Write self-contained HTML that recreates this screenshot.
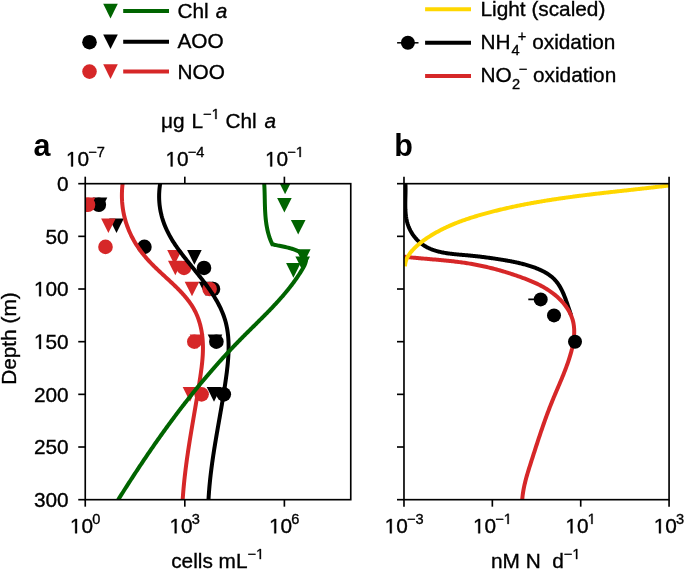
<!DOCTYPE html>
<html><head><meta charset="utf-8"><style>
html,body{margin:0;padding:0;background:#fff;}
svg{display:block;will-change:transform;font-family:"Liberation Sans",sans-serif;}
text{stroke:#000;stroke-width:0.35px;}
</style></head><body>
<svg width="685" height="569" viewBox="0 0 685 569">
<rect width="685" height="569" fill="#fff"/>
<clipPath id="ca"><rect x="85.25" y="183.68" width="265.5" height="316.0"/></clipPath>
<clipPath id="cb"><rect x="403.98" y="183.68" width="265.09000000000003" height="316.0"/></clipPath>
<g clip-path="url(#ca)">
<path d="M92.70,197.45L107.30,197.45L100.00,212.05Z" fill="#000"/>
<path d="M109.20,218.51L123.80,218.51L116.50,233.11Z" fill="#000"/>
<path d="M187.10,250.11L201.70,250.11L194.40,264.71Z" fill="#000"/>
<path d="M198.70,281.71L213.30,281.71L206.00,296.31Z" fill="#000"/>
<path d="M207.70,334.38L222.30,334.38L215.00,348.98Z" fill="#000"/>
<path d="M206.70,387.05L221.30,387.05L214.00,401.65Z" fill="#000"/>
<circle cx="98.80" cy="204.75" r="7.30" fill="#000"/>
<circle cx="144.40" cy="246.88" r="7.30" fill="#000"/>
<circle cx="204.00" cy="267.95" r="7.30" fill="#000"/>
<circle cx="213.00" cy="289.01" r="7.30" fill="#000"/>
<circle cx="216.40" cy="341.68" r="7.30" fill="#000"/>
<circle cx="223.80" cy="394.35" r="7.30" fill="#000"/>
<path d="M80.70,197.45L95.30,197.45L88.00,212.05Z" fill="#d62728"/>
<path d="M101.10,218.51L115.70,218.51L108.40,233.11Z" fill="#d62728"/>
<path d="M167.20,250.11L181.80,250.11L174.50,264.71Z" fill="#d62728"/>
<path d="M168.00,260.65L182.60,260.65L175.30,275.25Z" fill="#d62728"/>
<path d="M184.70,281.71L199.30,281.71L192.00,296.31Z" fill="#d62728"/>
<path d="M189.70,334.38L204.30,334.38L197.00,348.98Z" fill="#d62728"/>
<path d="M182.70,387.05L197.30,387.05L190.00,401.65Z" fill="#d62728"/>
<circle cx="88.00" cy="204.75" r="7.30" fill="#d62728"/>
<circle cx="105.50" cy="246.88" r="7.30" fill="#d62728"/>
<circle cx="184.00" cy="267.95" r="7.30" fill="#d62728"/>
<circle cx="209.60" cy="289.01" r="7.30" fill="#d62728"/>
<circle cx="194.30" cy="341.68" r="7.30" fill="#d62728"/>
<circle cx="201.60" cy="394.35" r="7.30" fill="#d62728"/>
<path d="M277.80,179.54L292.40,179.54L285.10,194.14Z" fill="#006400"/>
<path d="M277.10,197.97L291.70,197.97L284.40,212.57Z" fill="#006400"/>
<path d="M290.90,219.88L305.50,219.88L298.20,234.48Z" fill="#006400"/>
<path d="M296.00,249.27L310.60,249.27L303.30,263.87Z" fill="#006400"/>
<path d="M295.40,256.43L310.00,256.43L302.70,271.03Z" fill="#006400"/>
<path d="M286.10,263.07L300.70,263.07L293.40,277.67Z" fill="#006400"/>
<path d="M122.66,183.17 L122.51,184.42 L122.38,185.67 L122.27,186.91 L122.17,188.15 L122.08,189.38 L122.02,190.60 L121.96,191.82 L121.93,193.04 L121.91,194.25 L121.90,195.46 L121.91,196.66 L121.93,197.85 L121.97,199.04 L122.03,200.22 L122.09,201.40 L122.18,202.57 L122.28,203.74 L122.39,204.91 L122.52,206.06 L122.66,207.22 L122.82,208.36 L122.99,209.50 L123.17,210.64 L123.37,211.77 L123.58,212.90 L123.81,214.02 L124.05,215.13 L124.30,216.24 L124.57,217.34 L124.85,218.44 L125.15,219.53 L125.45,220.62 L125.77,221.70 L126.11,222.78 L126.46,223.85 L126.82,224.92 L127.19,225.98 L127.58,227.03 L127.98,228.08 L128.39,229.13 L128.81,230.16 L129.25,231.20 L129.70,232.22 L130.16,233.25 L130.63,234.26 L131.12,235.27 L131.61,236.28 L132.12,237.28 L132.64,238.27 L133.18,239.26 L133.72,240.25 L134.28,241.22 L134.85,242.19 L135.42,243.16 L136.01,244.12 L136.62,245.08 L137.23,246.03 L137.85,246.97 L138.49,247.91 L139.13,248.84 L139.79,249.77 L140.46,250.69 L141.13,251.61 L141.82,252.52 L142.52,253.42 L143.23,254.32 L143.95,255.21 L144.68,256.10 L145.42,256.98 L146.17,257.86 L146.93,258.73 L147.70,259.59 L148.48,260.45 L149.26,261.30 L150.06,262.15 L150.86,263.00 L151.67,263.83 L152.49,264.67 L153.32,265.50 L154.15,266.33 L154.99,267.15 L155.83,267.97 L156.68,268.79 L157.53,269.60 L158.39,270.42 L159.25,271.23 L160.11,272.03 L160.98,272.84 L161.84,273.65 L162.71,274.45 L163.58,275.25 L164.46,276.05 L165.33,276.86 L166.20,277.66 L167.07,278.46 L167.94,279.26 L168.81,280.06 L169.67,280.86 L170.54,281.67 L171.40,282.47 L172.26,283.28 L173.11,284.09 L173.96,284.90 L174.80,285.71 L175.64,286.53 L176.48,287.35 L177.31,288.17 L178.13,289.00 L178.94,289.83 L179.75,290.66 L180.55,291.49 L181.34,292.34 L182.12,293.18 L182.90,294.03 L183.66,294.89 L184.41,295.75 L185.15,296.62 L185.88,297.49 L186.60,298.37 L187.31,299.25 L188.01,300.15 L188.69,301.05 L189.36,301.95 L190.01,302.87 L190.65,303.79 L191.28,304.72 L191.89,305.65 L192.49,306.60 L193.06,307.55 L193.63,308.52 L194.17,309.49 L194.70,310.47 L195.21,311.46 L195.70,312.47 L196.18,313.48 L196.63,314.50 L197.07,315.53 L197.49,316.56 L197.90,317.61 L198.28,318.66 L198.66,319.72 L199.01,320.79 L199.35,321.87 L199.67,322.95 L199.97,324.04 L200.26,325.13 L200.54,326.23 L200.79,327.34 L201.04,328.45 L201.26,329.57 L201.47,330.69 L201.67,331.81 L201.85,332.94 L202.02,334.08 L202.17,335.21 L202.31,336.35 L202.44,337.50 L202.55,338.64 L202.64,339.79 L202.72,340.94 L202.79,342.10 L202.85,343.25 L202.89,344.41 L202.92,345.56 L202.94,346.72 L202.95,347.88 L202.94,349.04 L202.92,350.20 L202.89,351.36 L202.86,352.52 L202.81,353.69 L202.75,354.85 L202.68,356.01 L202.60,357.18 L202.52,358.34 L202.42,359.50 L202.32,360.67 L202.21,361.83 L202.10,363.00 L201.97,364.16 L201.84,365.33 L201.71,366.49 L201.57,367.65 L201.42,368.82 L201.27,369.98 L201.11,371.14 L200.95,372.30 L200.79,373.46 L200.62,374.62 L200.45,375.78 L200.28,376.94 L200.11,378.10 L199.93,379.25 L199.75,380.41 L199.58,381.56 L199.40,382.71 L199.22,383.86 L199.03,385.01 L198.85,386.16 L198.67,387.31 L198.48,388.46 L198.30,389.60 L198.11,390.75 L197.93,391.89 L197.74,393.03 L197.55,394.17 L197.36,395.32 L197.17,396.46 L196.98,397.59 L196.79,398.73 L196.60,399.87 L196.41,401.01 L196.22,402.14 L196.03,403.28 L195.84,404.41 L195.64,405.54 L195.45,406.68 L195.26,407.81 L195.07,408.94 L194.87,410.07 L194.68,411.20 L194.49,412.33 L194.29,413.46 L194.10,414.59 L193.91,415.72 L193.71,416.85 L193.52,417.98 L193.33,419.11 L193.14,420.23 L192.95,421.36 L192.75,422.49 L192.56,423.61 L192.37,424.74 L192.18,425.87 L191.99,426.99 L191.80,428.12 L191.61,429.25 L191.42,430.37 L191.24,431.50 L191.05,432.62 L190.86,433.75 L190.68,434.88 L190.49,436.00 L190.31,437.13 L190.13,438.26 L189.94,439.38 L189.76,440.51 L189.58,441.64 L189.40,442.76 L189.23,443.89 L189.05,445.02 L188.87,446.15 L188.70,447.28 L188.53,448.41 L188.35,449.53 L188.18,450.66 L188.02,451.80 L187.85,452.93 L187.68,454.06 L187.52,455.19 L187.35,456.32 L187.19,457.46 L187.03,458.59 L186.87,459.72 L186.71,460.86 L186.56,462.00 L186.41,463.13 L186.25,464.27 L186.10,465.41 L185.96,466.55 L185.81,467.69 L185.67,468.83 L185.52,469.97 L185.38,471.12 L185.25,472.26 L185.11,473.40 L184.98,474.55 L184.84,475.70 L184.71,476.85 L184.59,478.00 L184.46,479.15 L184.34,480.30 L184.22,481.45 L184.10,482.60 L183.99,483.76 L183.87,484.92 L183.76,486.07 L183.66,487.23 L183.55,488.39 L183.45,489.56 L183.35,490.72 L183.25,491.89 L183.16,493.05 L183.07,494.22 L182.98,495.39 L182.89,496.56 L182.81,497.73 L182.73,498.91 L182.65,500.09" fill="none" stroke="#d62728" stroke-width="4.0"/>
<path d="M160.21,183.20 L160.02,184.45 L159.84,185.69 L159.69,186.92 L159.55,188.15 L159.44,189.37 L159.34,190.58 L159.26,191.78 L159.20,192.98 L159.15,194.17 L159.13,195.36 L159.12,196.53 L159.13,197.71 L159.16,198.87 L159.20,200.03 L159.27,201.18 L159.35,202.33 L159.44,203.46 L159.55,204.60 L159.68,205.72 L159.83,206.84 L159.99,207.96 L160.17,209.07 L160.36,210.17 L160.57,211.26 L160.79,212.35 L161.03,213.44 L161.29,214.52 L161.55,215.59 L161.84,216.66 L162.13,217.72 L162.45,218.77 L162.77,219.82 L163.11,220.86 L163.46,221.90 L163.83,222.93 L164.21,223.96 L164.61,224.98 L165.01,226.00 L165.43,227.01 L165.86,228.01 L166.31,229.01 L166.76,230.01 L167.23,231.00 L167.71,231.98 L168.20,232.96 L168.71,233.94 L169.22,234.91 L169.75,235.87 L170.28,236.83 L170.83,237.79 L171.39,238.74 L171.96,239.68 L172.53,240.63 L173.12,241.56 L173.72,242.50 L174.32,243.43 L174.93,244.36 L175.55,245.28 L176.18,246.20 L176.82,247.12 L177.46,248.03 L178.11,248.94 L178.77,249.85 L179.43,250.76 L180.10,251.67 L180.78,252.57 L181.46,253.47 L182.14,254.37 L182.83,255.27 L183.52,256.17 L184.22,257.06 L184.92,257.96 L185.63,258.85 L186.34,259.75 L187.05,260.64 L187.77,261.53 L188.48,262.43 L189.20,263.32 L189.92,264.21 L190.64,265.11 L191.37,266.00 L192.09,266.90 L192.81,267.79 L193.54,268.69 L194.26,269.58 L194.99,270.48 L195.71,271.38 L196.43,272.28 L197.15,273.18 L197.87,274.09 L198.59,274.99 L199.31,275.89 L200.02,276.80 L200.73,277.71 L201.44,278.62 L202.14,279.53 L202.85,280.44 L203.54,281.36 L204.24,282.27 L204.93,283.19 L205.61,284.11 L206.29,285.03 L206.97,285.96 L207.63,286.88 L208.30,287.81 L208.96,288.74 L209.61,289.68 L210.25,290.61 L210.89,291.55 L211.52,292.49 L212.14,293.43 L212.76,294.38 L213.37,295.33 L213.97,296.28 L214.56,297.24 L215.14,298.20 L215.71,299.16 L216.28,300.12 L216.83,301.09 L217.37,302.06 L217.91,303.03 L218.43,304.01 L218.94,304.99 L219.44,305.98 L219.93,306.97 L220.41,307.96 L220.88,308.96 L221.33,309.96 L221.77,310.96 L222.20,311.97 L222.62,312.98 L223.02,314.00 L223.41,315.02 L223.78,316.04 L224.14,317.07 L224.49,318.11 L224.82,319.15 L225.13,320.19 L225.44,321.24 L225.72,322.29 L225.99,323.35 L226.25,324.41 L226.49,325.47 L226.71,326.54 L226.92,327.62 L227.12,328.70 L227.31,329.78 L227.48,330.86 L227.63,331.95 L227.78,333.05 L227.91,334.14 L228.03,335.24 L228.14,336.35 L228.23,337.45 L228.32,338.56 L228.39,339.67 L228.45,340.79 L228.50,341.91 L228.54,343.03 L228.57,344.15 L228.59,345.27 L228.60,346.40 L228.60,347.53 L228.59,348.66 L228.57,349.79 L228.55,350.93 L228.51,352.06 L228.47,353.20 L228.42,354.34 L228.36,355.48 L228.29,356.62 L228.22,357.76 L228.14,358.90 L228.05,360.05 L227.96,361.19 L227.86,362.34 L227.76,363.48 L227.65,364.63 L227.53,365.77 L227.41,366.92 L227.28,368.06 L227.15,369.21 L227.02,370.35 L226.88,371.50 L226.74,372.64 L226.59,373.78 L226.44,374.93 L226.29,376.07 L226.13,377.21 L225.97,378.35 L225.81,379.49 L225.65,380.63 L225.49,381.76 L225.32,382.90 L225.16,384.03 L224.99,385.16 L224.82,386.29 L224.65,387.42 L224.47,388.55 L224.30,389.67 L224.12,390.80 L223.95,391.92 L223.77,393.05 L223.59,394.17 L223.41,395.29 L223.23,396.41 L223.04,397.53 L222.86,398.65 L222.67,399.77 L222.49,400.88 L222.30,402.00 L222.11,403.11 L221.93,404.23 L221.74,405.34 L221.55,406.45 L221.36,407.56 L221.17,408.67 L220.97,409.78 L220.78,410.89 L220.59,412.00 L220.40,413.11 L220.20,414.22 L220.01,415.33 L219.82,416.43 L219.62,417.54 L219.43,418.65 L219.24,419.75 L219.04,420.86 L218.85,421.96 L218.66,423.06 L218.46,424.17 L218.27,425.27 L218.08,426.38 L217.88,427.48 L217.69,428.58 L217.50,429.68 L217.31,430.79 L217.12,431.89 L216.93,432.99 L216.74,434.09 L216.55,435.20 L216.36,436.30 L216.17,437.40 L215.99,438.50 L215.80,439.61 L215.62,440.71 L215.43,441.81 L215.25,442.92 L215.07,444.02 L214.89,445.12 L214.71,446.23 L214.53,447.33 L214.35,448.44 L214.18,449.54 L214.00,450.65 L213.83,451.75 L213.66,452.86 L213.49,453.96 L213.32,455.07 L213.15,456.18 L212.99,457.29 L212.83,458.39 L212.66,459.50 L212.51,460.61 L212.35,461.72 L212.19,462.84 L212.04,463.95 L211.89,465.06 L211.74,466.17 L211.59,467.29 L211.44,468.40 L211.30,469.52 L211.16,470.64 L211.02,471.75 L210.89,472.87 L210.75,473.99 L210.62,475.11 L210.49,476.23 L210.37,477.36 L210.24,478.48 L210.12,479.61 L210.01,480.73 L209.89,481.86 L209.78,482.99 L209.67,484.12 L209.56,485.25 L209.46,486.38 L209.36,487.52 L209.26,488.65 L209.17,489.79 L209.08,490.92 L208.99,492.06 L208.91,493.20 L208.83,494.35 L208.75,495.49 L208.67,496.64 L208.60,497.78 L208.54,498.93 L208.47,500.08" fill="none" stroke="#000" stroke-width="4.0"/>
<path d="M264.23,183.73 L264.29,184.75 L264.35,185.78 L264.40,186.81 L264.45,187.84 L264.49,188.87 L264.53,189.91 L264.56,190.95 L264.60,191.99 L264.62,193.03 L264.65,194.07 L264.68,195.12 L264.70,196.16 L264.72,197.21 L264.74,198.26 L264.77,199.31 L264.79,200.36 L264.81,201.41 L264.83,202.46 L264.86,203.51 L264.89,204.56 L264.92,205.61 L264.95,206.67 L264.99,207.72 L265.03,208.77 L265.07,209.82 L265.12,210.87 L265.18,211.92 L265.24,212.97 L265.31,214.01 L265.38,215.06 L265.46,216.11 L265.55,217.15 L265.65,218.19 L265.75,219.23 L265.86,220.27 L265.98,221.31 L266.12,222.34 L266.26,223.37 L266.41,224.40 L266.57,225.43 L266.75,226.45 L266.94,227.47 L267.14,228.49 L267.35,229.51 L267.57,230.52 L267.81,231.53 L268.06,232.53 L268.33,233.53 L268.61,234.53 L268.91,235.52 L269.23,236.51 L269.56,237.50 L269.90,238.48 L270.27,239.46 L270.65,240.43 L271.05,241.40 L271.47,242.36 L271.90,243.31 L272.36,244.27 L272.81,244.31 L273.58,244.53 L274.41,244.75 L275.30,244.96 L276.25,245.17 L277.25,245.38 L278.30,245.59 L279.39,245.80 L280.53,246.02 L281.70,246.26 L282.90,246.50 L284.14,246.76 L285.39,247.03 L286.67,247.33 L287.96,247.65 L289.27,247.99 L290.58,248.37 L291.89,248.77 L293.20,249.20 L294.49,249.66 L295.76,250.16 L296.99,250.69 L298.18,251.25 L299.31,251.84 L300.38,252.47 L301.38,253.13 L302.29,253.83 L303.11,254.56 L303.84,255.32 L304.46,256.12 L304.98,256.94 L305.38,257.79 L305.67,258.67 L305.84,259.57 L305.88,260.48 L305.79,261.42 L305.60,262.37 L305.31,263.33 L304.94,264.30 L304.50,265.28 L304.01,266.26 L303.47,267.25 L302.91,268.23 L302.34,269.21 L301.76,270.18 L301.17,271.15 L300.57,272.12 L299.97,273.08 L299.36,274.03 L298.74,274.98 L298.11,275.93 L297.48,276.87 L296.84,277.81 L296.20,278.75 L295.55,279.68 L294.89,280.60 L294.22,281.53 L293.55,282.45 L292.88,283.36 L292.19,284.27 L291.51,285.18 L290.81,286.08 L290.11,286.99 L289.41,287.88 L288.70,288.78 L287.98,289.67 L287.26,290.56 L286.54,291.44 L285.81,292.32 L285.07,293.20 L284.33,294.08 L283.59,294.95 L282.84,295.82 L282.09,296.69 L281.33,297.55 L280.57,298.41 L279.81,299.27 L279.04,300.13 L278.27,300.99 L277.49,301.84 L276.71,302.69 L275.93,303.54 L275.14,304.39 L274.35,305.23 L273.56,306.08 L272.77,306.92 L271.97,307.76 L271.17,308.60 L270.36,309.43 L269.56,310.27 L268.75,311.10 L267.94,311.93 L267.13,312.77 L266.31,313.60 L265.50,314.43 L264.68,315.25 L263.86,316.08 L263.04,316.91 L262.22,317.73 L261.39,318.56 L260.57,319.38 L259.74,320.20 L258.91,321.03 L258.08,321.85 L257.26,322.67 L256.43,323.49 L255.60,324.31 L254.77,325.14 L253.94,325.96 L253.11,326.78 L252.27,327.60 L251.44,328.42 L250.61,329.24 L249.78,330.07 L248.95,330.89 L248.12,331.71 L247.30,332.53 L246.47,333.36 L245.64,334.18 L244.81,335.01 L243.99,335.83 L243.17,336.66 L242.34,337.49 L241.52,338.32 L240.70,339.15 L239.89,339.98 L239.07,340.81 L238.26,341.65 L237.44,342.48 L236.63,343.32 L235.82,344.16 L235.02,345.00 L234.21,345.84 L233.41,346.68 L232.60,347.52 L231.80,348.36 L231.00,349.21 L230.21,350.05 L229.41,350.90 L228.62,351.75 L227.82,352.60 L227.03,353.45 L226.24,354.30 L225.46,355.15 L224.67,356.01 L223.89,356.86 L223.10,357.72 L222.32,358.58 L221.54,359.44 L220.77,360.30 L219.99,361.16 L219.21,362.02 L218.44,362.88 L217.67,363.75 L216.90,364.61 L216.13,365.48 L215.36,366.35 L214.60,367.22 L213.83,368.09 L213.07,368.96 L212.31,369.83 L211.55,370.70 L210.79,371.58 L210.04,372.45 L209.28,373.33 L208.53,374.21 L207.78,375.09 L207.03,375.97 L206.28,376.85 L205.53,377.73 L204.78,378.61 L204.04,379.50 L203.29,380.38 L202.55,381.27 L201.81,382.15 L201.07,383.04 L200.33,383.93 L199.60,384.82 L198.86,385.71 L198.13,386.60 L197.40,387.50 L196.67,388.39 L195.94,389.29 L195.21,390.18 L194.48,391.08 L193.76,391.98 L193.03,392.88 L192.31,393.78 L191.59,394.68 L190.87,395.58 L190.15,396.48 L189.43,397.39 L188.72,398.29 L188.00,399.20 L187.29,400.11 L186.58,401.01 L185.86,401.92 L185.15,402.83 L184.45,403.74 L183.74,404.65 L183.03,405.57 L182.33,406.48 L181.62,407.39 L180.92,408.31 L180.22,409.23 L179.52,410.14 L178.82,411.06 L178.12,411.98 L177.43,412.90 L176.73,413.82 L176.04,414.74 L175.34,415.67 L174.65,416.59 L173.96,417.51 L173.27,418.44 L172.58,419.36 L171.90,420.29 L171.21,421.22 L170.53,422.15 L169.84,423.08 L169.16,424.01 L168.48,424.94 L167.80,425.87 L167.12,426.80 L166.44,427.74 L165.76,428.67 L165.08,429.61 L164.41,430.54 L163.73,431.48 L163.06,432.42 L162.39,433.36 L161.72,434.29 L161.05,435.23 L160.38,436.18 L159.71,437.12 L159.04,438.06 L158.38,439.00 L157.71,439.95 L157.05,440.89 L156.39,441.84 L155.72,442.78 L155.06,443.73 L154.40,444.68 L153.74,445.63 L153.08,446.58 L152.43,447.53 L151.77,448.48 L151.11,449.43 L150.46,450.38 L149.81,451.34 L149.15,452.29 L148.50,453.24 L147.85,454.20 L147.20,455.15 L146.55,456.11 L145.90,457.07 L145.26,458.03 L144.61,458.99 L143.96,459.94 L143.32,460.91 L142.67,461.87 L142.03,462.83 L141.39,463.79 L140.75,464.75 L140.10,465.72 L139.46,466.68 L138.83,467.65 L138.19,468.61 L137.55,469.58 L136.91,470.54 L136.28,471.51 L135.64,472.48 L135.01,473.45 L134.37,474.42 L133.74,475.39 L133.11,476.36 L132.47,477.33 L131.84,478.30 L131.21,479.27 L130.58,480.25 L129.95,481.22 L129.33,482.19 L128.70,483.17 L128.07,484.14 L127.44,485.12 L126.82,486.10 L126.19,487.07 L125.57,488.05 L124.95,489.03 L124.32,490.01 L123.70,490.99 L123.08,491.97 L122.46,492.95 L121.84,493.93 L121.22,494.91 L120.60,495.89 L119.98,496.88 L119.36,497.86 L118.74,498.84 L118.13,499.83" fill="none" stroke="#006400" stroke-width="4.0" stroke-linejoin="miter"/>
</g>
<g clip-path="url(#cb)">
<path d="M405.41,183.79 L405.45,184.55 L405.48,185.32 L405.51,186.10 L405.53,186.88 L405.54,187.66 L405.55,188.45 L405.55,189.25 L405.55,190.05 L405.55,190.85 L405.54,191.66 L405.52,192.47 L405.51,193.28 L405.49,194.10 L405.47,194.92 L405.45,195.75 L405.43,196.58 L405.41,197.41 L405.39,198.24 L405.37,199.07 L405.35,199.91 L405.34,200.75 L405.32,201.58 L405.31,202.42 L405.30,203.26 L405.30,204.10 L405.30,204.94 L405.30,205.79 L405.31,206.63 L405.33,207.47 L405.35,208.31 L405.38,209.14 L405.41,209.98 L405.46,210.82 L405.51,211.65 L405.57,212.49 L405.64,213.32 L405.72,214.15 L405.81,214.97 L405.91,215.80 L406.02,216.62 L406.15,217.43 L406.28,218.25 L406.43,219.06 L406.59,219.86 L406.77,220.67 L406.96,221.46 L407.16,222.26 L407.38,223.04 L407.61,223.83 L407.86,224.60 L408.13,225.38 L408.41,226.14 L408.71,226.90 L409.03,227.66 L409.35,228.40 L409.70,229.14 L410.06,229.87 L410.43,230.60 L410.82,231.32 L411.22,232.02 L411.63,232.72 L412.06,233.42 L412.50,234.10 L412.96,234.77 L413.42,235.43 L413.91,236.09 L414.40,236.73 L414.90,237.36 L415.42,237.98 L415.95,238.59 L416.49,239.19 L417.04,239.78 L417.60,240.35 L418.17,240.91 L418.76,241.46 L419.35,242.00 L419.95,242.52 L420.57,243.03 L421.19,243.53 L421.82,244.01 L422.46,244.48 L423.11,244.93 L423.77,245.37 L424.44,245.80 L425.12,246.21 L425.80,246.60 L426.49,246.99 L427.19,247.36 L427.90,247.71 L428.62,248.06 L429.34,248.39 L430.07,248.71 L430.80,249.02 L431.54,249.31 L432.29,249.60 L433.04,249.87 L433.80,250.14 L434.57,250.39 L435.34,250.64 L436.12,250.87 L436.90,251.09 L437.69,251.31 L438.48,251.52 L439.27,251.71 L440.07,251.90 L440.88,252.08 L441.68,252.26 L442.50,252.42 L443.31,252.58 L444.13,252.74 L444.95,252.88 L445.77,253.02 L446.60,253.15 L447.43,253.28 L448.26,253.40 L449.09,253.52 L449.93,253.63 L450.77,253.74 L451.60,253.84 L452.44,253.94 L453.28,254.03 L454.13,254.12 L454.97,254.21 L455.81,254.30 L456.65,254.38 L457.50,254.46 L458.34,254.54 L459.18,254.62 L460.02,254.69 L460.86,254.77 L461.70,254.84 L462.54,254.91 L463.38,254.98 L464.22,255.06 L465.05,255.13 L465.88,255.20 L466.71,255.27 L467.54,255.35 L468.36,255.42 L469.19,255.50 L470.01,255.58 L470.83,255.66 L471.64,255.74 L472.46,255.82 L473.27,255.91 L474.08,255.99 L474.89,256.08 L475.70,256.16 L476.50,256.25 L477.31,256.34 L478.11,256.43 L478.91,256.52 L479.71,256.61 L480.51,256.71 L481.31,256.80 L482.11,256.90 L482.90,257.00 L483.70,257.10 L484.50,257.20 L485.29,257.30 L486.08,257.40 L486.88,257.51 L487.67,257.61 L488.46,257.72 L489.26,257.83 L490.05,257.94 L490.84,258.05 L491.64,258.16 L492.43,258.28 L493.22,258.39 L494.02,258.51 L494.81,258.63 L495.60,258.74 L496.40,258.86 L497.20,258.99 L497.99,259.11 L498.79,259.23 L499.59,259.36 L500.39,259.49 L501.19,259.62 L501.99,259.75 L502.79,259.88 L503.60,260.01 L504.40,260.15 L505.21,260.28 L506.01,260.42 L506.82,260.56 L507.63,260.70 L508.44,260.85 L509.25,261.00 L510.06,261.15 L510.87,261.30 L511.68,261.45 L512.49,261.61 L513.30,261.77 L514.11,261.94 L514.92,262.11 L515.73,262.28 L516.54,262.45 L517.34,262.63 L518.15,262.81 L518.96,263.00 L519.77,263.19 L520.58,263.38 L521.38,263.58 L522.19,263.78 L522.99,263.99 L523.79,264.20 L524.60,264.41 L525.40,264.63 L526.19,264.86 L526.99,265.09 L527.79,265.33 L528.58,265.57 L529.38,265.81 L530.17,266.07 L530.96,266.32 L531.74,266.59 L532.53,266.86 L533.31,267.13 L534.09,267.41 L534.87,267.70 L535.65,267.99 L536.42,268.29 L537.19,268.60 L537.96,268.91 L538.72,269.24 L539.48,269.56 L540.23,269.90 L540.98,270.25 L541.73,270.60 L542.46,270.96 L543.19,271.33 L543.92,271.71 L544.63,272.10 L545.34,272.50 L546.04,272.90 L546.73,273.32 L547.42,273.75 L548.09,274.19 L548.76,274.64 L549.41,275.10 L550.06,275.57 L550.69,276.05 L551.31,276.55 L551.92,277.05 L552.52,277.57 L553.11,278.10 L553.68,278.64 L554.24,279.20 L554.79,279.77 L555.32,280.35 L555.84,280.95 L556.34,281.55 L556.84,282.17 L557.32,282.80 L557.79,283.45 L558.25,284.10 L558.69,284.76 L559.13,285.43 L559.55,286.12 L559.96,286.81 L560.37,287.51 L560.76,288.21 L561.15,288.93 L561.52,289.65 L561.89,290.38 L562.25,291.12 L562.60,291.86 L562.94,292.61 L563.28,293.37 L563.61,294.13 L563.93,294.89 L564.25,295.66 L564.56,296.43 L564.86,297.20 L565.16,297.98 L565.45,298.76 L565.74,299.55 L566.03,300.33 L566.31,301.12 L566.59,301.90 L566.86,302.69 L567.13,303.48 L567.40,304.27 L567.66,305.05 L567.93,305.84 L568.19,306.62 L568.45,307.40 L568.71,308.18 L568.97,308.96 L569.23,309.74 L569.49,310.51 L569.75,311.27 L570.01,312.04 L570.27,312.79 L570.53,313.55 L570.80,314.29 L571.06,315.04" fill="none" stroke="#000" stroke-width="4.0"/>
<path d="M404.05,256.70 L405.28,256.84 L406.53,256.98 L407.77,257.11 L409.01,257.24 L410.26,257.37 L411.51,257.50 L412.76,257.62 L414.01,257.74 L415.27,257.85 L416.52,257.97 L417.78,258.08 L419.04,258.20 L420.30,258.31 L421.56,258.42 L422.82,258.53 L424.08,258.63 L425.35,258.74 L426.61,258.85 L427.88,258.96 L429.15,259.06 L430.41,259.17 L431.68,259.28 L432.95,259.39 L434.22,259.49 L435.49,259.60 L436.76,259.71 L438.03,259.83 L439.30,259.94 L440.57,260.06 L441.84,260.17 L443.11,260.29 L444.38,260.41 L445.65,260.54 L446.91,260.66 L448.18,260.79 L449.45,260.92 L450.72,261.06 L451.98,261.20 L453.25,261.34 L454.51,261.49 L455.78,261.64 L457.04,261.79 L458.30,261.95 L459.56,262.11 L460.82,262.28 L462.07,262.45 L463.33,262.63 L464.58,262.81 L465.83,263.00 L467.08,263.19 L468.33,263.39 L469.58,263.60 L470.82,263.81 L472.07,264.02 L473.31,264.24 L474.55,264.47 L475.78,264.71 L477.02,264.94 L478.26,265.19 L479.49,265.44 L480.72,265.69 L481.95,265.96 L483.18,266.22 L484.41,266.50 L485.63,266.77 L486.86,267.06 L488.08,267.35 L489.30,267.64 L490.53,267.94 L491.75,268.24 L492.96,268.55 L494.18,268.87 L495.40,269.19 L496.61,269.52 L497.83,269.85 L499.04,270.19 L500.25,270.53 L501.47,270.88 L502.68,271.23 L503.89,271.59 L505.10,271.95 L506.30,272.32 L507.51,272.69 L508.72,273.07 L509.92,273.46 L511.13,273.85 L512.33,274.24 L513.54,274.64 L514.74,275.04 L515.94,275.45 L517.15,275.87 L518.35,276.29 L519.55,276.71 L520.75,277.14 L521.95,277.58 L523.15,278.02 L524.35,278.46 L525.55,278.92 L526.74,279.38 L527.93,279.85 L529.12,280.32 L530.30,280.81 L531.48,281.30 L532.66,281.81 L533.83,282.32 L534.99,282.84 L536.15,283.38 L537.31,283.92 L538.45,284.48 L539.59,285.05 L540.73,285.64 L541.85,286.23 L542.97,286.84 L544.08,287.47 L545.18,288.10 L546.27,288.76 L547.35,289.43 L548.42,290.11 L549.47,290.81 L550.52,291.53 L551.56,292.27 L552.58,293.02 L553.59,293.80 L554.59,294.59 L555.58,295.40 L556.55,296.23 L557.51,297.07 L558.45,297.94 L559.37,298.82 L560.27,299.72 L561.16,300.64 L562.02,301.57 L562.86,302.52 L563.68,303.49 L564.48,304.47 L565.25,305.47 L566.00,306.48 L566.72,307.51 L567.41,308.55 L568.08,309.61 L568.71,310.68 L569.32,311.76 L569.89,312.86 L570.43,313.97 L570.93,315.09 L571.41,316.22 L571.84,317.36 L572.24,318.52 L572.60,319.69 L572.93,320.86 L573.21,322.05 L573.46,323.25 L573.67,324.46 L573.84,325.67 L573.98,326.89 L574.09,328.12 L574.17,329.36 L574.21,330.60 L574.22,331.85 L574.21,333.11 L574.16,334.37 L574.09,335.63 L573.99,336.89 L573.86,338.16 L573.72,339.43 L573.54,340.71 L573.35,341.98 L573.14,343.26 L572.90,344.53 L572.65,345.81 L572.37,347.08 L572.09,348.35 L571.78,349.62 L571.46,350.89 L571.13,352.15 L570.78,353.41 L570.42,354.66 L570.05,355.91 L569.67,357.16 L569.28,358.40 L568.88,359.63 L568.48,360.85 L568.07,362.07 L567.65,363.29 L567.22,364.49 L566.79,365.70 L566.35,366.89 L565.91,368.09 L565.46,369.27 L565.01,370.46 L564.55,371.64 L564.09,372.81 L563.62,373.98 L563.15,375.15 L562.68,376.32 L562.20,377.48 L561.72,378.64 L561.24,379.80 L560.75,380.95 L560.27,382.11 L559.78,383.26 L559.29,384.41 L558.80,385.56 L558.31,386.71 L557.82,387.86 L557.32,389.01 L556.83,390.16 L556.34,391.31 L555.85,392.46 L555.36,393.61 L554.87,394.76 L554.39,395.92 L553.90,397.07 L553.42,398.23 L552.94,399.39 L552.47,400.55 L552.00,401.71 L551.53,402.88 L551.06,404.05 L550.60,405.22 L550.14,406.39 L549.68,407.57 L549.23,408.75 L548.78,409.93 L548.33,411.11 L547.88,412.29 L547.44,413.48 L547.00,414.67 L546.56,415.86 L546.13,417.05 L545.69,418.24 L545.26,419.44 L544.83,420.63 L544.41,421.83 L543.98,423.03 L543.56,424.23 L543.14,425.43 L542.72,426.63 L542.31,427.83 L541.89,429.04 L541.48,430.24 L541.07,431.45 L540.66,432.66 L540.25,433.86 L539.85,435.07 L539.44,436.28 L539.04,437.49 L538.64,438.70 L538.24,439.91 L537.84,441.12 L537.44,442.33 L537.05,443.54 L536.65,444.75 L536.26,445.96 L535.86,447.17 L535.47,448.38 L535.08,449.60 L534.69,450.81 L534.30,452.02 L533.91,453.23 L533.53,454.43 L533.14,455.64 L532.75,456.85 L532.36,458.06 L531.98,459.27 L531.59,460.47 L531.21,461.68 L530.82,462.88 L530.44,464.08 L530.05,465.29 L529.67,466.49 L529.29,467.69 L528.91,468.89 L528.54,470.10 L528.17,471.30 L527.81,472.50 L527.45,473.71 L527.09,474.91 L526.75,476.12 L526.41,477.33 L526.08,478.54 L525.75,479.76 L525.44,480.98 L525.13,482.20 L524.84,483.42 L524.55,484.65 L524.28,485.88 L524.02,487.11 L523.77,488.35 L523.54,489.60 L523.32,490.84 L523.11,492.10 L522.92,493.36 L522.74,494.62 L522.59,495.89 L522.44,497.16 L522.32,498.45 L522.21,499.73 L522.13,501.03" fill="none" stroke="#d62728" stroke-width="4.0"/>
<path d="M405.01,266.33 L405.05,265.34 L405.14,264.37 L405.28,263.42 L405.47,262.50 L405.69,261.59 L405.96,260.71 L406.26,259.85 L406.60,259.01 L406.97,258.18 L407.38,257.37 L407.81,256.58 L408.27,255.80 L408.76,255.03 L409.28,254.28 L409.81,253.54 L410.37,252.81 L410.94,252.08 L411.53,251.37 L412.14,250.66 L412.76,249.96 L413.39,249.27 L414.05,248.59 L414.71,247.92 L415.39,247.26 L416.08,246.60 L416.79,245.95 L417.50,245.31 L418.23,244.68 L418.97,244.05 L419.71,243.43 L420.47,242.82 L421.24,242.22 L422.01,241.62 L422.80,241.04 L423.59,240.46 L424.39,239.88 L425.19,239.32 L426.00,238.76 L426.82,238.21 L427.64,237.66 L428.46,237.12 L429.29,236.59 L430.12,236.07 L430.96,235.55 L431.80,235.04 L432.64,234.53 L433.48,234.04 L434.32,233.54 L435.17,233.06 L436.02,232.58 L436.87,232.11 L437.72,231.64 L438.57,231.18 L439.43,230.72 L440.29,230.28 L441.14,229.83 L442.01,229.39 L442.87,228.96 L443.73,228.54 L444.60,228.12 L445.47,227.70 L446.34,227.29 L447.21,226.88 L448.09,226.48 L448.96,226.09 L449.84,225.70 L450.72,225.32 L451.60,224.94 L452.48,224.56 L453.36,224.19 L454.25,223.82 L455.14,223.46 L456.02,223.11 L456.91,222.75 L457.80,222.41 L458.70,222.06 L459.59,221.72 L460.49,221.39 L461.38,221.05 L462.28,220.73 L463.18,220.40 L464.08,220.08 L464.98,219.77 L465.88,219.45 L466.78,219.15 L467.69,218.84 L468.59,218.54 L469.50,218.24 L470.41,217.94 L471.32,217.65 L472.23,217.36 L473.14,217.07 L474.05,216.79 L474.96,216.51 L475.88,216.23 L476.79,215.96 L477.71,215.69 L478.62,215.42 L479.54,215.15 L480.46,214.88 L481.37,214.62 L482.29,214.36 L483.21,214.10 L484.13,213.85 L485.05,213.59 L485.98,213.34 L486.90,213.09 L487.82,212.84 L488.74,212.59 L489.67,212.35 L490.59,212.11 L491.52,211.87 L492.44,211.63 L493.37,211.39 L494.30,211.15 L495.22,210.92 L496.15,210.69 L497.08,210.46 L498.01,210.23 L498.94,210.01 L499.87,209.78 L500.80,209.56 L501.73,209.34 L502.66,209.12 L503.59,208.90 L504.53,208.68 L505.46,208.47 L506.39,208.26 L507.33,208.04 L508.26,207.84 L509.20,207.63 L510.13,207.42 L511.07,207.22 L512.00,207.01 L512.94,206.81 L513.88,206.61 L514.82,206.41 L515.75,206.22 L516.69,206.02 L517.63,205.83 L518.57,205.64 L519.51,205.44 L520.45,205.26 L521.39,205.07 L522.33,204.88 L523.28,204.70 L524.22,204.51 L525.16,204.33 L526.10,204.15 L527.05,203.97 L527.99,203.79 L528.93,203.62 L529.88,203.44 L530.82,203.27 L531.77,203.09 L532.71,202.92 L533.66,202.75 L534.60,202.58 L535.55,202.41 L536.50,202.25 L537.44,202.08 L538.39,201.92 L539.34,201.76 L540.29,201.60 L541.23,201.44 L542.18,201.28 L543.13,201.12 L544.08,200.96 L545.03,200.81 L545.98,200.65 L546.93,200.50 L547.88,200.35 L548.83,200.19 L549.78,200.04 L550.73,199.90 L551.68,199.75 L552.63,199.60 L553.59,199.45 L554.54,199.31 L555.49,199.17 L556.44,199.02 L557.39,198.88 L558.35,198.74 L559.30,198.60 L560.25,198.46 L561.21,198.32 L562.16,198.18 L563.11,198.05 L564.07,197.91 L565.02,197.78 L565.98,197.64 L566.93,197.51 L567.89,197.38 L568.84,197.25 L569.80,197.12 L570.75,196.99 L571.71,196.86 L572.66,196.73 L573.62,196.60 L574.57,196.48 L575.53,196.35 L576.48,196.23 L577.44,196.10 L578.40,195.98 L579.35,195.85 L580.31,195.73 L581.26,195.61 L582.22,195.49 L583.18,195.37 L584.13,195.25 L585.09,195.13 L586.05,195.01 L587.00,194.89 L587.96,194.77 L588.92,194.66 L589.87,194.54 L590.83,194.43 L591.79,194.31 L592.75,194.20 L593.70,194.08 L594.66,193.97 L595.62,193.85 L596.57,193.74 L597.53,193.63 L598.49,193.52 L599.44,193.40 L600.40,193.29 L601.36,193.18 L602.32,193.07 L603.27,192.96 L604.23,192.85 L605.19,192.74 L606.14,192.63 L607.10,192.52 L608.06,192.41 L609.01,192.31 L609.97,192.20 L610.93,192.09 L611.88,191.98 L612.84,191.88 L613.80,191.77 L614.75,191.66 L615.71,191.56 L616.67,191.45 L617.62,191.34 L618.58,191.24 L619.53,191.13 L620.49,191.02 L621.44,190.92 L622.40,190.81 L623.35,190.71 L624.31,190.60 L625.27,190.50 L626.22,190.39 L627.17,190.29 L628.13,190.18 L629.08,190.08 L630.04,189.97 L630.99,189.87 L631.95,189.76 L632.90,189.65 L633.85,189.55 L634.81,189.44 L635.76,189.34 L636.71,189.23 L637.66,189.13 L638.62,189.02 L639.57,188.92 L640.52,188.81 L641.47,188.70 L642.42,188.60 L643.38,188.49 L644.33,188.38 L645.28,188.28 L646.23,188.17 L647.18,188.06 L648.13,187.96 L649.08,187.85 L650.03,187.74 L650.98,187.63 L651.93,187.52 L652.87,187.42 L653.82,187.31 L654.77,187.20 L655.72,187.09 L656.67,186.98 L657.61,186.87 L658.56,186.76 L659.51,186.64 L660.45,186.53 L661.40,186.42 L662.34,186.31 L663.29,186.19 L664.23,186.08 L665.18,185.97 L666.12,185.85 L667.07,185.74 L668.01,185.62 L668.95,185.51" fill="none" stroke="#ffd700" stroke-width="4.0"/>
<line x1="528.3" y1="299.4" x2="541" y2="299.4" stroke="#000" stroke-width="1.65"/>
<circle cx="540.70" cy="299.40" r="7.00" fill="#000"/>
<circle cx="554.00" cy="315.40" r="7.00" fill="#000"/>
<circle cx="575.00" cy="341.70" r="7.00" fill="#000"/>
</g>
<rect x="85.25" y="183.68" width="265.5" height="316.0" fill="none" stroke="#000" stroke-width="1.65"/>
<rect x="403.98" y="183.68" width="265.09000000000003" height="316.0" fill="none" stroke="#000" stroke-width="1.65"/>
<line x1="78.25" y1="183.68" x2="85.25" y2="183.68" stroke="#000" stroke-width="1.65"/>
<line x1="396.98" y1="183.68" x2="403.98" y2="183.68" stroke="#000" stroke-width="1.65"/>
<text x="68.60" y="190.88" font-size="20.8" text-anchor="end" font-weight="normal" font-style="normal" >0</text>
<line x1="78.25" y1="236.35" x2="85.25" y2="236.35" stroke="#000" stroke-width="1.65"/>
<line x1="396.98" y1="236.35" x2="403.98" y2="236.35" stroke="#000" stroke-width="1.65"/>
<text x="68.60" y="243.55" font-size="20.8" text-anchor="end" font-weight="normal" font-style="normal" >50</text>
<line x1="78.25" y1="289.01" x2="85.25" y2="289.01" stroke="#000" stroke-width="1.65"/>
<line x1="396.98" y1="289.01" x2="403.98" y2="289.01" stroke="#000" stroke-width="1.65"/>
<text x="68.60" y="296.21" font-size="20.8" text-anchor="end" font-weight="normal" font-style="normal" > 00</text>
<line x1="78.25" y1="341.68" x2="85.25" y2="341.68" stroke="#000" stroke-width="1.65"/>
<line x1="396.98" y1="341.68" x2="403.98" y2="341.68" stroke="#000" stroke-width="1.65"/>
<text x="68.60" y="348.88" font-size="20.8" text-anchor="end" font-weight="normal" font-style="normal" > 50</text>
<line x1="78.25" y1="394.35" x2="85.25" y2="394.35" stroke="#000" stroke-width="1.65"/>
<line x1="396.98" y1="394.35" x2="403.98" y2="394.35" stroke="#000" stroke-width="1.65"/>
<text x="68.60" y="401.55" font-size="20.8" text-anchor="end" font-weight="normal" font-style="normal" >200</text>
<line x1="78.25" y1="447.01" x2="85.25" y2="447.01" stroke="#000" stroke-width="1.65"/>
<line x1="396.98" y1="447.01" x2="403.98" y2="447.01" stroke="#000" stroke-width="1.65"/>
<text x="68.60" y="454.21" font-size="20.8" text-anchor="end" font-weight="normal" font-style="normal" >250</text>
<line x1="78.25" y1="499.68" x2="85.25" y2="499.68" stroke="#000" stroke-width="1.65"/>
<line x1="396.98" y1="499.68" x2="403.98" y2="499.68" stroke="#000" stroke-width="1.65"/>
<text x="68.60" y="506.88" font-size="20.8" text-anchor="end" font-weight="normal" font-style="normal" >300</text>
<line x1="85.25" y1="499.68" x2="85.25" y2="506.68" stroke="#000" stroke-width="1.65"/>
<text x="69.93" y="533.30" font-size="20.8"> 0<tspan dx="-0.9" dy="-9.4" font-size="14.6">0</tspan></text>
<line x1="184.81" y1="499.68" x2="184.81" y2="506.68" stroke="#000" stroke-width="1.65"/>
<text x="169.49" y="533.30" font-size="20.8"> 0<tspan dx="-0.9" dy="-9.4" font-size="14.6">3</tspan></text>
<line x1="284.38" y1="499.68" x2="284.38" y2="506.68" stroke="#000" stroke-width="1.65"/>
<text x="269.06" y="533.30" font-size="20.8"> 0<tspan dx="-0.9" dy="-9.4" font-size="14.6">6</tspan></text>
<line x1="85.25" y1="176.68" x2="85.25" y2="183.68" stroke="#000" stroke-width="1.65"/>
<text x="65.93" y="166.40" font-size="20.8"> 0<tspan dx="-0.9" dy="-9.4" font-size="14.6">−7</tspan></text>
<line x1="184.81" y1="176.68" x2="184.81" y2="183.68" stroke="#000" stroke-width="1.65"/>
<text x="165.49" y="166.40" font-size="20.8"> 0<tspan dx="-0.9" dy="-9.4" font-size="14.6">−4</tspan></text>
<line x1="284.38" y1="176.68" x2="284.38" y2="183.68" stroke="#000" stroke-width="1.65"/>
<text x="265.06" y="166.40" font-size="20.8"> 0<tspan dx="-0.9" dy="-9.4" font-size="14.6">− </tspan></text>
<line x1="403.98" y1="499.68" x2="403.98" y2="506.68" stroke="#000" stroke-width="1.65"/>
<text x="384.66" y="533.30" font-size="20.8"> 0<tspan dx="-0.9" dy="-9.4" font-size="14.6">−3</tspan></text>
<line x1="492.34" y1="499.68" x2="492.34" y2="506.68" stroke="#000" stroke-width="1.65"/>
<text x="473.02" y="533.30" font-size="20.8"> 0<tspan dx="-0.9" dy="-9.4" font-size="14.6">− </tspan></text>
<line x1="580.71" y1="499.68" x2="580.71" y2="506.68" stroke="#000" stroke-width="1.65"/>
<text x="565.39" y="533.30" font-size="20.8"> 0<tspan dx="-0.9" dy="-9.4" font-size="14.6"> </tspan></text>
<line x1="669.07" y1="499.68" x2="669.07" y2="506.68" stroke="#000" stroke-width="1.65"/>
<text x="653.75" y="533.30" font-size="20.8"> 0<tspan dx="-0.9" dy="-9.4" font-size="14.6">3</tspan></text>
<line x1="403.98" y1="176.68" x2="403.98" y2="183.68" stroke="#000" stroke-width="1.65"/>
<line x1="669.07" y1="176.68" x2="669.07" y2="183.68" stroke="#000" stroke-width="1.65"/>
<text x="161" y="127.6" font-size="20.8">μg <tspan dx="1.2">L</tspan><tspan dy="-8.6" font-size="14.6">− </tspan><tspan dy="8.6"> Chl </tspan><tspan dx="2" font-style="italic">a</tspan></text>
<text x="171.2" y="567.7" font-size="20.8">cells mL<tspan dy="-8.6" font-size="14.6">− </tspan></text>
<text x="491" y="567.7" font-size="20.8" xml:space="preserve">nM N  d<tspan dy="-8.6" font-size="14.6">− </tspan></text>
<text transform="translate(15.8,338.6) rotate(-90)" font-size="20.8" text-anchor="middle">Depth (m)</text>
<text x="33.50" y="156.20" font-size="30.5" text-anchor="start" font-weight="bold" font-style="normal" style="stroke:none">a</text>
<text x="394.30" y="156.00" font-size="30.5" text-anchor="start" font-weight="bold" font-style="normal" style="stroke:none">b</text>
<line x1="123.2" y1="11.1" x2="169" y2="11.1" stroke="#006400" stroke-width="4.0"/>
<path d="M103.20,3.80L117.80,3.80L110.50,18.40Z" fill="#006400"/>
<text x="177.5" y="17.5" font-size="20.8">Chl <tspan dx="1.3" font-style="italic">a</tspan></text>
<line x1="123.2" y1="41.7" x2="169" y2="41.7" stroke="#000" stroke-width="4.0"/>
<path d="M103.20,34.40L117.80,34.40L110.50,49.00Z" fill="#000"/>
<circle cx="89.50" cy="42.20" r="7.30" fill="#000"/>
<text x="177.5" y="48.4" font-size="20.8">AOO</text>
<line x1="123.2" y1="71.6" x2="169" y2="71.6" stroke="#d62728" stroke-width="4.0"/>
<path d="M103.20,64.30L117.80,64.30L110.50,78.90Z" fill="#d62728"/>
<circle cx="89.50" cy="71.60" r="7.30" fill="#d62728"/>
<text x="177.5" y="78.8" font-size="20.8">NOO</text>
<line x1="425.1" y1="9.3" x2="471" y2="9.3" stroke="#ffd700" stroke-width="4.0"/>
<line x1="425.1" y1="42.8" x2="471" y2="42.8" stroke="#000" stroke-width="4.0"/>
<line x1="425.1" y1="76" x2="471" y2="76" stroke="#d62728" stroke-width="4.0"/>
<line x1="397.1" y1="42.8" x2="418.5" y2="42.8" stroke="#000" stroke-width="1.5"/>
<circle cx="407.90" cy="42.80" r="7.00" fill="#000"/>
<text x="480.5" y="15.9" font-size="20.8">Light (scaled)</text>
<text x="480.5" y="49.1" font-size="20.8">NH</text>
<text x="511.6" y="55.1" font-size="14.6">4</text>
<text x="517.8" y="41.4" font-size="14.6">+</text>
<text x="532.2" y="49.1" font-size="20.8">oxidation</text>
<text x="480.5" y="82.4" font-size="20.8">NO</text>
<text x="511.9" y="88.6" font-size="14.6">2</text>
<text x="518.7" y="74.4" font-size="14.6">−</text>
<text x="533.0" y="82.4" font-size="20.8">oxidation</text>
<path transform="translate(33.90,296.21) scale(0.01016)" d="M515,0L515,-1237L197,-1010L197,-1180L530,-1409L696,-1409L696,0Z" fill="#000" stroke="#000" stroke-width="0.35" vector-effect="non-scaling-stroke"/>
<path transform="translate(33.90,348.88) scale(0.01016)" d="M515,0L515,-1237L197,-1010L197,-1180L530,-1409L696,-1409L696,0Z" fill="#000" stroke="#000" stroke-width="0.35" vector-effect="non-scaling-stroke"/>
<path transform="translate(69.93,533.30) scale(0.01016)" d="M515,0L515,-1237L197,-1010L197,-1180L530,-1409L696,-1409L696,0Z" fill="#000" stroke="#000" stroke-width="0.35" vector-effect="non-scaling-stroke"/>
<path transform="translate(169.49,533.30) scale(0.01016)" d="M515,0L515,-1237L197,-1010L197,-1180L530,-1409L696,-1409L696,0Z" fill="#000" stroke="#000" stroke-width="0.35" vector-effect="non-scaling-stroke"/>
<path transform="translate(269.06,533.30) scale(0.01016)" d="M515,0L515,-1237L197,-1010L197,-1180L530,-1409L696,-1409L696,0Z" fill="#000" stroke="#000" stroke-width="0.35" vector-effect="non-scaling-stroke"/>
<path transform="translate(65.93,166.40) scale(0.01016)" d="M515,0L515,-1237L197,-1010L197,-1180L530,-1409L696,-1409L696,0Z" fill="#000" stroke="#000" stroke-width="0.35" vector-effect="non-scaling-stroke"/>
<path transform="translate(165.49,166.40) scale(0.01016)" d="M515,0L515,-1237L197,-1010L197,-1180L530,-1409L696,-1409L696,0Z" fill="#000" stroke="#000" stroke-width="0.35" vector-effect="non-scaling-stroke"/>
<path transform="translate(265.06,166.40) scale(0.01016)" d="M515,0L515,-1237L197,-1010L197,-1180L530,-1409L696,-1409L696,0Z" fill="#000" stroke="#000" stroke-width="0.35" vector-effect="non-scaling-stroke"/>
<path transform="translate(295.82,157.00) scale(0.00713)" d="M515,0L515,-1237L197,-1010L197,-1180L530,-1409L696,-1409L696,0Z" fill="#000" stroke="#000" stroke-width="0.35" vector-effect="non-scaling-stroke"/>
<path transform="translate(384.66,533.30) scale(0.01016)" d="M515,0L515,-1237L197,-1010L197,-1180L530,-1409L696,-1409L696,0Z" fill="#000" stroke="#000" stroke-width="0.35" vector-effect="non-scaling-stroke"/>
<path transform="translate(473.02,533.30) scale(0.01016)" d="M515,0L515,-1237L197,-1010L197,-1180L530,-1409L696,-1409L696,0Z" fill="#000" stroke="#000" stroke-width="0.35" vector-effect="non-scaling-stroke"/>
<path transform="translate(503.78,523.90) scale(0.00713)" d="M515,0L515,-1237L197,-1010L197,-1180L530,-1409L696,-1409L696,0Z" fill="#000" stroke="#000" stroke-width="0.35" vector-effect="non-scaling-stroke"/>
<path transform="translate(565.39,533.30) scale(0.01016)" d="M515,0L515,-1237L197,-1010L197,-1180L530,-1409L696,-1409L696,0Z" fill="#000" stroke="#000" stroke-width="0.35" vector-effect="non-scaling-stroke"/>
<path transform="translate(587.63,523.90) scale(0.00713)" d="M515,0L515,-1237L197,-1010L197,-1180L530,-1409L696,-1409L696,0Z" fill="#000" stroke="#000" stroke-width="0.35" vector-effect="non-scaling-stroke"/>
<path transform="translate(653.75,533.30) scale(0.01016)" d="M515,0L515,-1237L197,-1010L197,-1180L530,-1409L696,-1409L696,0Z" fill="#000" stroke="#000" stroke-width="0.35" vector-effect="non-scaling-stroke"/>
<path transform="translate(211.62,119.00) scale(0.00713)" d="M515,0L515,-1237L197,-1010L197,-1180L530,-1409L696,-1409L696,0Z" fill="#000" stroke="#000" stroke-width="0.35" vector-effect="non-scaling-stroke"/>
<path transform="translate(256.00,559.10) scale(0.00713)" d="M515,0L515,-1237L197,-1010L197,-1180L530,-1409L696,-1409L696,0Z" fill="#000" stroke="#000" stroke-width="0.35" vector-effect="non-scaling-stroke"/>
<path transform="translate(572.33,559.10) scale(0.00713)" d="M515,0L515,-1237L197,-1010L197,-1180L530,-1409L696,-1409L696,0Z" fill="#000" stroke="#000" stroke-width="0.35" vector-effect="non-scaling-stroke"/>
</svg>
</body></html>
